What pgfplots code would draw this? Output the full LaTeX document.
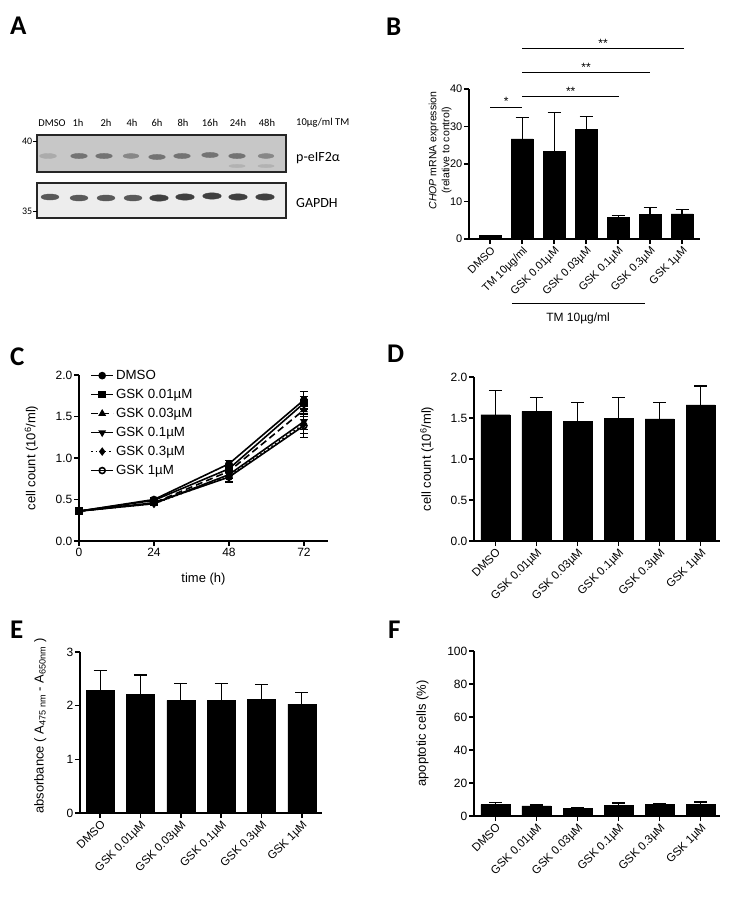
\documentclass[border=0pt]{standalone}
\usepackage{pgfplots}
\pgfplotsset{compat=1.18}
\usepackage{fontspec}
\setmainfont{Liberation Sans}
\newfontfamily\calibri{Carlito}
\pgfplotsset{
  panel/.style={
    scale only axis,
    axis lines*=left,
    axis line style={line width=1.4pt},
    tick align=outside,
    major tick length=5pt,
    tick style={line width=1.4pt, black},
    tick label style={font=\fontsize{12}{13}\selectfont, inner sep=1.5pt},
    label style={font=\fontsize{13}{15}\selectfont},
    /pgf/number format/assume math mode=true,
    clip=false,
  },
  catx/.style={
    xtick={0,...,5},
    xticklabels={DMSO, GSK 0.01µM, GSK 0.03µM, GSK 0.1µM, GSK 0.3µM, GSK 1µM},
    xticklabel style={rotate=45, anchor=north east, inner sep=1pt, font=\fontsize{11.5}{12}\selectfont},
  },
  barplot/.style={
    ybar, fill=black, draw=black, bar width=#1,
    error bars/.cd, y dir=plus, y explicit,
    error bar style={line width=1.2pt, black},
    error mark options={rotate=90, mark size=6.5pt, line width=1.2pt, black},
  },
  errC/.style={
    error bars/.cd, y dir=both, y explicit,
    error bar style={line width=1.1pt, black, solid},
    error mark options={rotate=90, mark size=4pt, line width=1.1pt, black, solid},
  },
}
\newcommand{\lane}[2]{\node[font=\calibri\fontsize{10.5}{10.5}\selectfont] at (axis cs:#1,123) {#2};}
\newcommand{\panelletter}{\calibri\bfseries\fontsize{27}{27}\selectfont}
\begin{document}
\begin{tikzpicture}
\useasboundingbox (0,0) rectangle (750pt,-910pt);

% panel letters
\node[anchor=north west, inner sep=0pt, font=\panelletter] at (10pt,-17pt) {A};
\node[anchor=north west, inner sep=0pt, font=\panelletter] at (386pt,-18pt) {B};
\node[anchor=north west, inner sep=0pt, font=\panelletter] at (10pt,-348pt) {C};
\node[anchor=north west, inner sep=0pt, font=\panelletter] at (387pt,-345pt) {D};
\node[anchor=north west, inner sep=0pt, font=\panelletter] at (10pt,-621pt) {E};
\node[anchor=north west, inner sep=0pt, font=\panelletter] at (388pt,-621pt) {F};

% ---------------- Panel A: western blot ----------------
\begin{axis}[hide axis, scale only axis, width=375pt, height=280pt,
  at={(0pt,0pt)}, anchor=north west, xmin=0, xmax=375, ymin=0, ymax=280,
  y dir=reverse, clip=false]
\fill[black!22] (axis cs:37,135) rectangle (axis cs:286,172);
\fill[black!7] (axis cs:37,183) rectangle (axis cs:286,218);
% p-eIF2a bands
\addplot[only marks, mark=*, mark size=2.5pt, color=black!33, mark options={xscale=3.4}]
  coordinates {(48,156)};
\addplot[only marks, mark=*, mark size=2.6pt, color=black!55, mark options={xscale=3.2}]
  coordinates {(79,156)(104,156)(157,157)(182,156)(210,155)(237,156)};
\addplot[only marks, mark=*, mark size=2.4pt, color=black!47, mark options={xscale=3.3}]
  coordinates {(131,156)(266,156)};
\addplot[only marks, mark=*, mark size=1.6pt, color=black!30, mark options={xscale=5}]
  coordinates {(237,166)(266,166)};
% GAPDH bands
\addplot[only marks, mark=*, mark size=3pt, color=black!65, mark options={xscale=3.0}]
  coordinates {(50,197)(79,198)(106,198)(133,198)};
\addplot[only marks, mark=*, mark size=3.2pt, color=black!75, mark options={xscale=2.9}]
  coordinates {(159,198)(185,197)(212,196)(238,197)(265,197)};
\draw[black!85, line width=1.1pt] (axis cs:37,135) rectangle (axis cs:286,172);
\draw[black!85, line width=1.1pt] (axis cs:37,183) rectangle (axis cs:286,218);
\draw[line width=0.7pt] (axis cs:33,141) -- (axis cs:37,141);
\draw[line width=0.7pt] (axis cs:33,211) -- (axis cs:37,211);
\node[anchor=east, inner sep=0.5pt, font=\calibri\fontsize{10}{10}\selectfont] at (axis cs:33,141) {40};
\node[anchor=east, inner sep=0.5pt, font=\calibri\fontsize{10}{10}\selectfont] at (axis cs:33,211) {35};
\lane{52}{DMSO}
\lane{78}{1h}
\lane{106}{2h}
\lane{132}{4h}
\lane{157}{6h}
\lane{183}{8h}
\lane{210}{16h}
\lane{238}{24h}
\lane{267}{48h}
\node[anchor=west, inner sep=0pt, font=\calibri\fontsize{10.5}{10.5}\selectfont] at (axis cs:296,123) {10µg/ml TM};
\node[anchor=west, inner sep=0pt, font=\calibri\fontsize{14}{14}\selectfont] at (axis cs:296,158) {p-eIF2α};
\node[anchor=west, inner sep=0pt, font=\calibri\fontsize{14}{14}\selectfont] at (axis cs:296,203) {GAPDH};
\end{axis}

% ---------------- Panel B ----------------
\begin{axis}[panel, at={(469pt,-239pt)}, anchor=south west, width=231pt, height=150pt,
  xmin=-0.66, xmax=6.56, ymin=0, ymax=40, ytick={0,10,20,30,40},
  tick label style={font=\fontsize{11}{12}\selectfont},
  xtick={0,...,6},
  xticklabels={DMSO, TM 10µg/ml, GSK 0.01µM, GSK 0.03µM, GSK 0.1µM, GSK 0.3µM, GSK 1µM},
  xticklabel style={rotate=45, anchor=north east, inner sep=1pt},
  ylabel={\textit{CHOP} mRNA expression\\(relative to control)},
  ylabel style={font=\fontsize{10.5}{13}\selectfont, align=center, at={(axis description cs:-0.06,0.59)}, anchor=south}]
\addplot[barplot=22pt] coordinates {
  (0,1.0) +- (0,0)
  (1,26.7) +- (0,5.7)
  (2,23.3) +- (0,10.4)
  (3,29.3) +- (0,3.3)
  (4,5.7) +- (0,0.5)
  (5,6.6) +- (0,1.9)
  (6,6.7) +- (0,1.2)
};
\draw[line width=0.9pt] (axis cs:0,35.2) -- (axis cs:1,35.2);
\node[anchor=base, inner sep=0pt, font=\fontsize{12}{12}\selectfont] at (axis cs:0.5,35.7) {*};
\draw[line width=0.9pt] (axis cs:1,37.9) -- (axis cs:4.03,37.9);
\node[anchor=base, inner sep=0pt, font=\fontsize{12}{12}\selectfont] at (axis cs:2.52,38.4) {**};
\draw[line width=0.9pt] (axis cs:1,44.3) -- (axis cs:5.0,44.3);
\node[anchor=base, inner sep=0pt, font=\fontsize{12}{12}\selectfont] at (axis cs:3.0,44.8) {**};
\draw[line width=0.9pt] (axis cs:1,50.7) -- (axis cs:6.06,50.7);
\node[anchor=base, inner sep=0pt, font=\fontsize{12}{12}\selectfont] at (axis cs:3.53,51.2) {**};
\draw[line width=0.9pt] (axis cs:0.68,-17.1) -- (axis cs:4.84,-17.1);
\node[anchor=base, inner sep=0pt, font=\fontsize{12}{12}\selectfont] at (axis cs:2.75,-21.9) {TM 10µg/ml};
\end{axis}

% ---------------- Panel C ----------------
\begin{axis}[panel, at={(79pt,-541pt)}, anchor=south west, width=249pt, height=166pt,
  xmin=0, xmax=79.7, ymin=0, ymax=2,
  xtick={0,24,48,72}, ytick={0,0.5,1,1.5,2},
  yticklabel style={/pgf/number format/.cd, fixed, fixed zerofill, precision=1},
  xlabel={time (h)}, ylabel={cell count (10\textsuperscript{6}/ml)},
  xlabel style={yshift=-12pt},
  ylabel style={at={(axis description cs:-0.15,0.5)}, anchor=south},
  legend style={draw=none, fill=none, at={(axis description cs:0.045,1.042)}, anchor=north west,
    font=\fontsize{13.3}{13.3}\selectfont, row sep=4.2pt, inner sep=0pt},
  legend cell align=left,
  legend image code/.code={\draw[mark repeat=2, mark phase=2, #1] plot coordinates {(0pt,0pt)(11pt,0pt)(22pt,0pt)};},
  every axis plot/.append style={line width=1.6pt, black},
]
\addplot[mark=*, mark size=3pt, mark options={solid, fill=black}, errC] coordinates {
  (0,0.36) +- (0,0.01) (24,0.50) +- (0,0.02) (48,0.93) +- (0,0.04) (72,1.70) +- (0,0.10)};
\addlegendentry{DMSO}
\addplot[mark=square*, mark size=3pt, mark options={solid, fill=black}, errC] coordinates {
  (0,0.36) +- (0,0.01) (24,0.49) +- (0,0.02) (48,0.87) +- (0,0.05) (72,1.66) +- (0,0.08)};
\addlegendentry{GSK 0.01µM}
\addplot[dash pattern=on 7pt off 4pt, mark=triangle*, mark size=3pt, mark options={solid, fill=black}, errC] coordinates {
  (0,0.36) +- (0,0.01) (24,0.46) +- (0,0.02) (48,0.84) +- (0,0.05) (72,1.58) +- (0,0.08)};
\addlegendentry{GSK 0.03µM}
\addplot[mark=triangle*, mark size=3pt, mark options={solid, fill=black, rotate=180}, errC] coordinates {
  (0,0.36) +- (0,0.01) (24,0.45) +- (0,0.02) (48,0.80) +- (0,0.05) (72,1.44) +- (0,0.10)};
\addlegendentry{GSK 0.1µM}
\addplot[dash pattern=on 1.5pt off 3pt, mark=diamond*, mark size=3pt, mark options={solid, fill=black}, errC] coordinates {
  (0,0.36) +- (0,0.01) (24,0.45) +- (0,0.02) (48,0.78) +- (0,0.06) (72,1.41) +- (0,0.12)};
\addlegendentry{GSK 0.3µM}
\addplot[mark=o, mark size=3pt, mark options={solid, fill=white}, errC] coordinates {
  (0,0.36) +- (0,0.01) (24,0.46) +- (0,0.02) (48,0.77) +- (0,0.07) (72,1.39) +- (0,0.14)};
\addlegendentry{GSK 1µM}
\end{axis}

% ---------------- Panel D ----------------
\begin{axis}[panel, catx, at={(474pt,-541pt)}, anchor=south west, width=246pt, height=164pt,
  xmin=-0.52, xmax=5.47, ymin=0, ymax=2, ytick={0,0.5,1,1.5,2},
  yticklabel style={/pgf/number format/.cd, fixed, fixed zerofill, precision=1},
  ylabel={cell count (10\textsuperscript{6}/ml)},
  ylabel style={at={(axis description cs:-0.15,0.5)}, anchor=south}]
\addplot[barplot=29pt] coordinates {
  (0,1.54) +- (0,0.30)
  (1,1.58) +- (0,0.17)
  (2,1.46) +- (0,0.23)
  (3,1.50) +- (0,0.25)
  (4,1.49) +- (0,0.20)
  (5,1.66) +- (0,0.23)
};
\end{axis}

% ---------------- Panel E ----------------
\begin{axis}[panel, catx, at={(80pt,-813pt)}, anchor=south west, width=242pt, height=161pt,
  xmin=-0.5, xmax=5.5, ymin=0, ymax=3, ytick={0,1,2,3},
  ylabel={absorbance ( A\textsubscript{475 nm} - A\textsubscript{650nm} )},
  ylabel style={at={(axis description cs:-0.125,0.54)}, anchor=south}]
\addplot[barplot=28pt] coordinates {
  (0,2.29) +- (0,0.37)
  (1,2.21) +- (0,0.36)
  (2,2.10) +- (0,0.31)
  (3,2.10) +- (0,0.31)
  (4,2.12) +- (0,0.28)
  (5,2.03) +- (0,0.22)
};
\end{axis}

% ---------------- Panel F ----------------
\begin{axis}[panel, catx, at={(474pt,-816pt)}, anchor=south west, width=246pt, height=165pt,
  xmin=-0.52, xmax=5.47, ymin=0, ymax=100, ytick={0,20,40,60,80,100},
  ylabel={apoptotic cells (\%)},
  ylabel style={at={(axis description cs:-0.17,0.5)}, anchor=south}]
\addplot[barplot=29pt] coordinates {
  (0,6.9) +- (0,1.2)
  (1,6.1) +- (0,0.6)
  (2,4.7) +- (0,0.2)
  (3,6.5) +- (0,1.4)
  (4,6.9) +- (0,0.4)
  (5,6.9) +- (0,1.6)
};
\end{axis}
\end{tikzpicture}
\end{document}
